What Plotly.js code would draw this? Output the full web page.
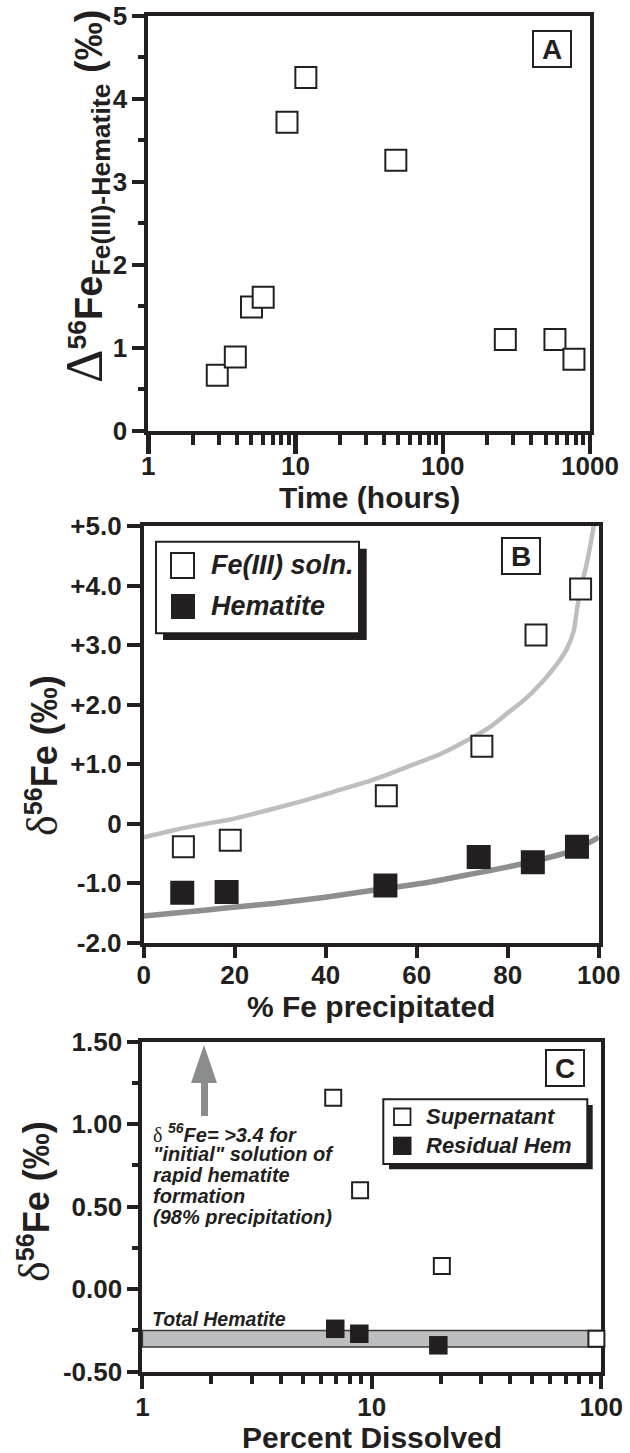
<!DOCTYPE html>
<html><head><meta charset="utf-8">
<script src="https://cdn.plot.ly/plotly-3.0.1.min.js"></script>
<style>html,body{margin:0;padding:0;background:#fff;} #chart{width:630px;height:1453px;}</style>
</head><body><div id="chart"></div>
<script>
// ---------- Panel A : Δ56Fe Fe(III)-Hematite vs time ----------
const timeHours   = [2.94, 3.90, 5.02, 6.03, 8.75, 11.75, 48, 266, 578, 778];
const deltaFe3Hem = [0.67, 0.89, 1.49, 1.61, 3.72, 4.26, 3.26, 1.10, 1.10, 0.86];

// ---------- Panel B : δ56Fe vs % Fe precipitated ----------
const pctPrecipSoln = [8.7, 19.0, 53.3, 74.3, 86.2, 96.0];
const deltaSoln     = [-0.39, -0.28, 0.47, 1.30, 3.17, 3.94];
const pctPrecipHem  = [8.45, 18.2, 53.1, 73.6, 85.5, 95.2];
const deltaHem      = [-1.16, -1.15, -1.04, -0.56, -0.65, -0.39];
const solnCurveX = [0, 6.5, 13.8, 19.0, 28.5, 35.8, 43.2, 50.5, 57.8, 65.2, 71.8, 76.2, 79.8, 83.5, 87.2, 90.8, 93.0, 94.5, 95.2, 96.0, 97.1, 98.2, 99.0];
const solnCurveY = [-0.23, -0.11, 0.00, 0.07, 0.25, 0.40, 0.57, 0.74, 0.95, 1.17, 1.43, 1.63, 1.85, 2.07, 2.35, 2.68, 2.94, 3.24, 3.60, 3.95, 4.28, 4.70, 5.05];
const hemCurveX  = [0, 8.7, 19.0, 28.5, 39.5, 53.1, 63.0, 72.5, 79.8, 85.3, 94.5, 100];
const hemCurveY  = [-1.55, -1.49, -1.41, -1.34, -1.24, -1.09, -0.98, -0.84, -0.73, -0.64, -0.45, -0.23];
const bYTickVals = [-2, -1, 0, 1, 2, 3, 4, 5];
const bYTickText = ['-2.0', '-1.0', '0', '+1.0', '+2.0', '+3.0', '+4.0', '+5.0'];

// ---------- Panel C : δ56Fe vs Percent Dissolved ----------
const pctDissolvedSuper = [6.79, 8.89, 20.2, 95.3];
const deltaSuper        = [1.16, 0.60, 0.14, -0.30];
const pctDissolvedResid = [6.93, 8.82, 19.5];
const deltaResid        = [-0.24, -0.27, -0.34];
const totalHematiteRange = [-0.35, -0.25];
const cYTickVals = [-0.5, 0, 0.5, 1.0, 1.5];
const cYTickText = ['-0.50', '0.00', '0.50', '1.00', '1.50'];

// ---------- styling helpers ----------
const W = 630, H = 1453;
const INK = '#231f20';
const FONT = 'Liberation Sans, Arial, Helvetica, sans-serif';
const px = v => v / W;
const py = v => 1 - v / H;
const tickFont = {family: FONT, size: 26, color: INK, weight: 'bold'};
const SERIF = "font-family:Liberation Serif;font-weight:normal;font-style:normal";

function axisBase(extra) {
  return Object.assign({
    showline: true, mirror: true, linewidth: 4, linecolor: INK,
    showgrid: false, zeroline: false, ticks: 'outside', tickwidth: 4, tickcolor: INK,
    tickfont: tickFont, automargin: false, fixedrange: true
  }, extra);
}

const openMarker = size => ({symbol: 'square', size: size, color: 'white', line: {color: INK, width: 2}});
const filledMarker = size => ({symbol: 'square', size: size, color: INK, line: {color: INK, width: 0}});

const traces = [
  {x: timeHours, y: deltaFe3Hem, xaxis: 'x', yaxis: 'y', type: 'scatter', mode: 'markers',
   name: 'Δ56Fe Fe(III)-Hematite', marker: openMarker(21), showlegend: false},
  {x: solnCurveX, y: solnCurveY, xaxis: 'x2', yaxis: 'y2', type: 'scatter', mode: 'lines',
   name: 'Fe(III) soln. model', line: {color: '#bcbec0', width: 4.5, shape: 'spline', smoothing: 0.6}, showlegend: false},
  {x: hemCurveX, y: hemCurveY, xaxis: 'x2', yaxis: 'y2', type: 'scatter', mode: 'lines',
   name: 'Hematite model', line: {color: '#8c8e90', width: 5.5, shape: 'spline', smoothing: 0.6}, showlegend: false},
  {x: pctPrecipSoln, y: deltaSoln, xaxis: 'x2', yaxis: 'y2', type: 'scatter', mode: 'markers',
   name: 'Fe(III) soln.', marker: openMarker(21), showlegend: false},
  {x: pctPrecipHem, y: deltaHem, xaxis: 'x2', yaxis: 'y2', type: 'scatter', mode: 'markers',
   name: 'Hematite', marker: filledMarker(24), showlegend: false},
  {x: pctDissolvedSuper, y: deltaSuper, xaxis: 'x3', yaxis: 'y3', type: 'scatter', mode: 'markers',
   name: 'Supernatant', marker: openMarker(16), cliponaxis: false, showlegend: false},
  {x: pctDissolvedResid, y: deltaResid, xaxis: 'x3', yaxis: 'y3', type: 'scatter', mode: 'markers',
   name: 'Residual Hem', marker: filledMarker(18.5), cliponaxis: false, showlegend: false}
];

const shapes = [
  // Total hematite band (panel C)
  {type: 'rect', xref: 'x3 domain', yref: 'y3', x0: 0, x1: 1, y0: totalHematiteRange[0], y1: totalHematiteRange[1],
   fillcolor: '#bcbec0', line: {color: '#3a3a3a', width: 1.5}, layer: 'below'},
  // Legend B (shadow, box, keys)
  {type: 'rect', xref: 'paper', yref: 'paper', x0: px(163), x1: px(366.7), y0: py(640), y1: py(548.7), fillcolor: INK, line: {width: 0}},
  {type: 'rect', xref: 'paper', yref: 'paper', x0: px(156), x1: px(359), y0: py(633.3), y1: py(541.7), fillcolor: 'white', line: {color: INK, width: 2}},
  {type: 'rect', xref: 'paper', yref: 'paper', x0: px(171), x1: px(194), y0: py(578), y1: py(553), fillcolor: 'white', line: {color: INK, width: 2}},
  {type: 'rect', xref: 'paper', yref: 'paper', x0: px(171), x1: px(195), y0: py(619), y1: py(594), fillcolor: INK, line: {width: 0}},
  // Legend C (shadow, box, keys)
  {type: 'rect', xref: 'paper', yref: 'paper', x0: px(389), x1: px(592.7), y0: py(1169.3), y1: py(1105), fillcolor: INK, line: {width: 0}},
  {type: 'rect', xref: 'paper', yref: 'paper', x0: px(383.3), x1: px(587.3), y0: py(1164), y1: py(1099.3), fillcolor: 'white', line: {color: INK, width: 2}},
  {type: 'rect', xref: 'paper', yref: 'paper', x0: px(394), x1: px(410.5), y0: py(1125), y1: py(1108.5), fillcolor: 'white', line: {color: INK, width: 1.8}},
  {type: 'rect', xref: 'paper', yref: 'paper', x0: px(393), x1: px(411.5), y0: py(1155), y1: py(1136.7), fillcolor: INK, line: {width: 0}},
  // Grey arrow (panel C)
  {type: 'path', xref: 'paper', yref: 'paper',
   path: 'M' + px(204) + ',' + py(1045) + ' L' + px(217) + ',' + py(1083) + ' L' + px(208) + ',' + py(1083) +
         ' L' + px(208) + ',' + py(1116) + ' L' + px(201) + ',' + py(1116) + ' L' + px(201) + ',' + py(1083) +
         ' L' + px(191) + ',' + py(1083) + ' Z',
   fillcolor: '#8a8c8e', line: {width: 0}}
];

const biFont = (size) => ({family: FONT, size: size, color: INK, weight: 'bold', style: 'italic'});
function textAnn(text, x, y, size, h) {
  const a = {text: text, xref: 'paper', yref: 'paper', x: px(x), y: py(y), xanchor: 'left', yanchor: 'middle',
          showarrow: false, font: biFont(size)};
  if (h) { a.height = h; a.valign = 'middle'; }
  return a;
}
function boxAnn(letter, x, y) {
  return {text: letter, xref: 'paper', yref: 'paper', x: px(x), y: py(y), xanchor: 'center', yanchor: 'middle',
          showarrow: false, font: {family: FONT, size: 28, color: INK, weight: 'bold'},
          bordercolor: INK, borderwidth: 2, borderpad: 0, bgcolor: 'white', width: 36, height: 34};
}
function yTitleAnn(text, x, y, size) {
  return {text: text, xref: 'paper', yref: 'paper', x: px(x), y: py(y), xanchor: 'center', yanchor: 'middle',
          textangle: -90, showarrow: false, font: {family: FONT, size: size, color: INK, weight: 'bold'}};
}
function xTitleAnn(text, x, y, size) {
  return {text: text, xref: 'paper', yref: 'paper', x: px(x), y: py(y), xanchor: 'center', yanchor: 'middle',
          showarrow: false, font: {family: FONT, size: size, color: INK, weight: 'bold'}};
}

const annotations = [
  yTitleAnn('<span style="' + SERIF + ';font-size:52px">Δ</span><sup>56</sup>Fe<sub>Fe(III)-Hematite</sub> (‰)', 86, 196, 38),
  yTitleAnn('<span style="' + SERIF + ';font-size:44px">δ</span><sup>56</sup>Fe (‰)', 43, 755, 36),
  yTitleAnn('<span style="' + SERIF + ';font-size:44px">δ</span><sup>56</sup>Fe (‰)', 34, 1202, 36),
  xTitleAnn('Time (hours)', 369, 497, 30),
  xTitleAnn('% Fe precipitated', 371, 1006.5, 30),
  xTitleAnn('Percent Dissolved', 372, 1437.5, 30),
  boxAnn('A', 552, 49),
  boxAnn('B', 521, 556),
  boxAnn('C', 565, 1067.5),
  textAnn('Fe(III) soln.', 209, 565, 27),
  textAnn('Hematite', 209, 606, 27),
  textAnn('Supernatant', 424, 1116, 22),
  textAnn('Residual Hem', 424, 1145, 22),
  textAnn('Total Hematite', 150, 1318.5, 19.5),
  textAnn('<span style="' + SERIF + '">δ</span> <sup>56</sup>Fe= &gt;3.4 for', 151, 1133, 20, 20),
  textAnn('"initial" solution of', 151, 1154, 20, 20),
  textAnn('rapid hematite', 151, 1175, 20, 20),
  textAnn('formation', 151, 1196, 20, 20),
  textAnn('(98% precipitation)', 151, 1216.5, 20, 20)
];

const layout = {
  width: W, height: H,
  margin: {l: 0, r: 0, t: 0, b: 0, pad: 0},
  paper_bgcolor: 'white', plot_bgcolor: 'white',
  showlegend: false,
  font: {family: FONT, color: INK},
  // Panel A
  xaxis: axisBase({domain: [px(148.3), px(590)], anchor: 'y', type: 'log', range: [0, 3],
    tickmode: 'linear', tick0: 0, dtick: 1, exponentformat: 'none', ticklen: 19, tickwidth: 4.5,
    ticklabelstandoff: -10,
    minor: {ticks: 'outside', dtick: 'D1', ticklen: 10, tickwidth: 4, tickcolor: INK}}),
  yaxis: axisBase({domain: [py(430.7), py(16)], anchor: 'x', range: [0, 5], dtick: 1, ticklen: 12,
    minor: {ticks: 'outside', dtick: 0.5, ticklen: 6, tickwidth: 4, tickcolor: INK}}),
  // Panel B
  xaxis2: axisBase({domain: [px(143.8), px(598.8)], anchor: 'y2', range: [0, 100], dtick: 20, ticklen: 11,
    ticklabelstandoff: -5}),
  yaxis2: axisBase({domain: [py(942.7), py(526)], anchor: 'x2', range: [-2, 5], tickmode: 'array',
    tickvals: bYTickVals, ticktext: bYTickText, ticklen: 13}),
  // Panel C
  xaxis3: axisBase({domain: [px(142.4), px(601.2)], anchor: 'y3', type: 'log', range: [0, 2],
    tickmode: 'linear', tick0: 0, dtick: 1, exponentformat: 'none', ticklen: 13, layer: 'below traces',
    ticklabelstandoff: -4,
    minor: {ticks: 'outside', dtick: 'D1', ticklen: 8, tickwidth: 4, tickcolor: INK}}),
  yaxis3: axisBase({domain: [py(1371.7), py(1041.7)], anchor: 'x3', range: [-0.5, 1.5], tickmode: 'array',
    tickvals: cYTickVals, ticktext: cYTickText, ticklen: 11, layer: 'below traces',
    minor: {ticks: 'outside', dtick: 0.25, ticklen: 6, tickwidth: 4, tickcolor: INK}}),
  shapes: shapes,
  annotations: annotations
};

Plotly.newPlot('chart', traces, layout, {staticPlot: true, displayModeBar: false});
</script>
</body></html>
